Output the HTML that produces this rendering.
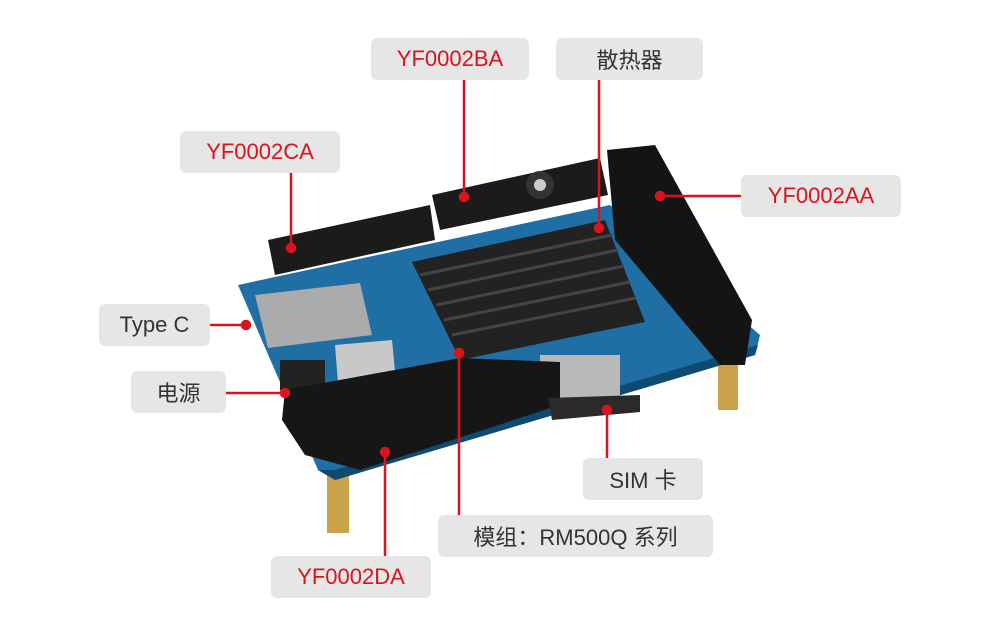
<!DOCTYPE html>
<html><head><meta charset="utf-8"><style>
html,body{margin:0;padding:0;background:#fff;}
#c{position:relative;width:1000px;height:641px;overflow:hidden;font-family:"Liberation Sans","Noto Sans CJK SC",sans-serif;}
.l{position:absolute;background:#e6e6e6;border-radius:6px;display:flex;align-items:center;justify-content:center;font-size:22px;color:#333;}
.r{color:#d9141e;}
svg{position:absolute;left:0;top:0;}
</style></head><body><div id="c">
<svg width="1000" height="641" viewBox="0 0 1000 641">
<!-- standoffs -->
<rect x="327" y="455" width="22" height="78" fill="#c9a24a"/>
<rect x="718" y="345" width="20" height="65" fill="#c9a24a"/>
<!-- PCB -->
<polygon points="238,285 610,205 760,335 755,355 335,480 318,470" fill="#1f6fa5"/>
<polygon points="318,470 335,480 755,355 758,345 335,470" fill="#0f4a72"/>
<!-- back bars -->
<polygon points="268,240 430,205 435,240 275,275" fill="#1b1b1b"/>
<polygon points="432,195 600,158 608,195 440,230" fill="#1b1b1b"/>
<circle cx="540" cy="185" r="14" fill="#333"/><circle cx="540" cy="185" r="6" fill="#ccc"/>
<!-- right bar -->
<polygon points="607,150 655,145 752,320 745,365 720,365 615,240" fill="#141414"/>
<!-- heatsink -->
<polygon points="412,262 605,220 645,322 460,360" fill="#222"/>
<g stroke="#444" stroke-width="3">
<line x1="420" y1="275" x2="612" y2="235"/><line x1="428" y1="290" x2="618" y2="250"/>
<line x1="436" y1="305" x2="624" y2="266"/><line x1="444" y1="320" x2="630" y2="282"/>
<line x1="452" y1="335" x2="636" y2="298"/></g>
<!-- connectors -->
<polygon points="255,295 360,283 372,335 268,348" fill="#a9abac"/>
<polygon points="335,345 392,340 398,402 340,408" fill="#c8c8c8"/>
<rect x="540" y="355" width="80" height="50" fill="#b9b9b9"/>
<rect x="280" y="360" width="45" height="30" fill="#222"/>
<!-- front bar -->
<polygon points="285,390 460,358 560,362 560,405 360,470 305,455 282,420" fill="#161616"/>
<polygon points="548,398 640,395 640,412 552,420" fill="#2a2a2a"/>
<!-- leader lines -->
<g stroke="#d9141e" stroke-width="2.5" fill="#d9141e">
<line x1="464" y1="80" x2="464" y2="197"/><circle cx="464" cy="197" r="4"/>
<line x1="599" y1="80" x2="599" y2="228"/><circle cx="599" cy="228" r="4"/>
<line x1="291" y1="173" x2="291" y2="248"/><circle cx="291" cy="248" r="4"/>
<line x1="741" y1="196" x2="660" y2="196"/><circle cx="660" cy="196" r="4"/>
<line x1="210" y1="325" x2="246" y2="325"/><circle cx="246" cy="325" r="4"/>
<line x1="226" y1="393" x2="285" y2="393"/><circle cx="285" cy="393" r="4"/>
<line x1="607" y1="458" x2="607" y2="410"/><circle cx="607" cy="410" r="4"/>
<line x1="459" y1="515" x2="459" y2="353"/><circle cx="459" cy="353" r="4"/>
<line x1="385" y1="556" x2="385" y2="452"/><circle cx="385" cy="452" r="4"/>
</g>
</svg>
<div class="l r" style="left:371px;top:38px;width:158px;height:42px">YF0002BA</div>
<div class="l" style="left:556px;top:38px;width:147px;height:42px">散热器</div>
<div class="l r" style="left:180px;top:131px;width:160px;height:42px">YF0002CA</div>
<div class="l r" style="left:741px;top:175px;width:160px;height:42px">YF0002AA</div>
<div class="l" style="left:99px;top:304px;width:111px;height:42px">Type C</div>
<div class="l" style="left:131px;top:371px;width:95px;height:42px">电源</div>
<div class="l" style="left:583px;top:458px;width:120px;height:42px">SIM 卡</div>
<div class="l" style="left:438px;top:515px;width:275px;height:42px">模组：RM500Q 系列</div>
<div class="l r" style="left:271px;top:556px;width:160px;height:42px">YF0002DA</div>
</div></body></html>
